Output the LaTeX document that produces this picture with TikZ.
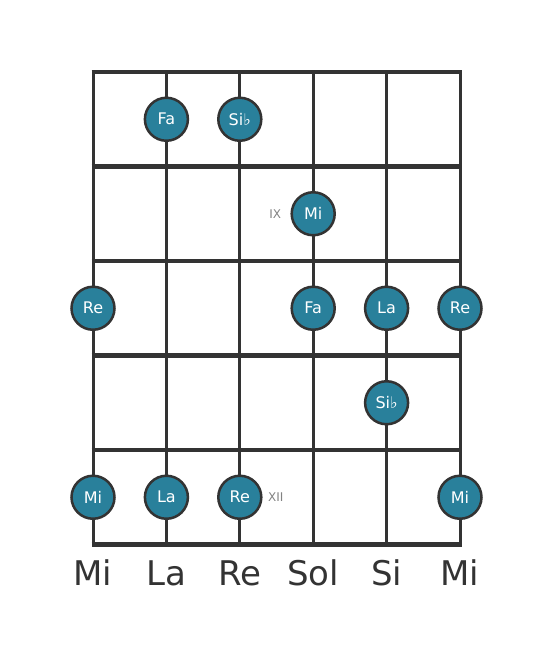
\documentclass[tikz,border=0pt]{standalone}
\usepackage{fontspec}
\setmainfont{DejaVu Sans}
\usetikzlibrary{positioning}
\definecolor{notefill}{RGB}{41,128,155}
\definecolor{gridline}{RGB}{51,51,51}
\definecolor{fretnum}{RGB}{130,130,130}
\tikzset{
  note/.style={circle,draw=gridline,line width=2.5pt,fill=notefill,minimum size=43pt,inner sep=0pt,text=white,font=\fontsize{16}{16}\selectfont},
  fretlabel/.style={text=fretnum,font=\fontsize{12}{12}\selectfont,inner sep=0pt},
  stringname/.style={text=gridline,font=\fontsize{34}{34}\selectfont,inner sep=0pt}
}
\begin{document}
\begin{tikzpicture}[x=1pt,y=-1pt]
\useasboundingbox (0,0) rectangle (553,656);

% strings
\foreach \s in {0,...,5}
  \draw [gridline,line width=3pt] (93+73.4*\s,72) -- (93+73.4*\s,544.5);
% frets
\foreach \f in {0,...,5}
  \draw [gridline,line width=4.5pt] (91.5,72+94.5*\f) -- (461.5,72+94.5*\f);

% notes
\node [note] (fa1) at (166.4,119.25) {Fa};
\node [note] (sib1) at (239.8,119.25) {Si\char"266D};
\node [note] (mi2) at (313.2,213.75) {Mi};
\node [fretlabel,anchor=center] (ix) at ([xshift=-38pt]mi2.center) {IX};
\node [note] (re3a) at (93,308.25) {Re};
\node [note] (fa3) at (313.2,308.25) {Fa};
\node [note] (la3) at (386.6,308.25) {La};
\node [note] (re3b) at (460,308.25) {Re};
\node [note] (sib4) at (386.6,402.75) {Si\char"266D};
\node [note] (mi5a) at (93,497.25) {Mi};
\node [note] (la5) at (166.4,497.25) {La};
\node [note] (re5) at (239.8,497.25) {Re};
\node [note] (mi5b) at (460,497.25) {Mi};
\node [fretlabel,anchor=center] (xii) at ([xshift=36pt]re5.center) {XII};

% open string names
\foreach \n/\name [count=\i from 0] in {mi/Mi,la/La,re/Re,sol/Sol,si/Si,mitop/Mi}
  \node [stringname] (str\n) at (93+73.4*\i,573) {\name};
\end{tikzpicture}
\end{document}
